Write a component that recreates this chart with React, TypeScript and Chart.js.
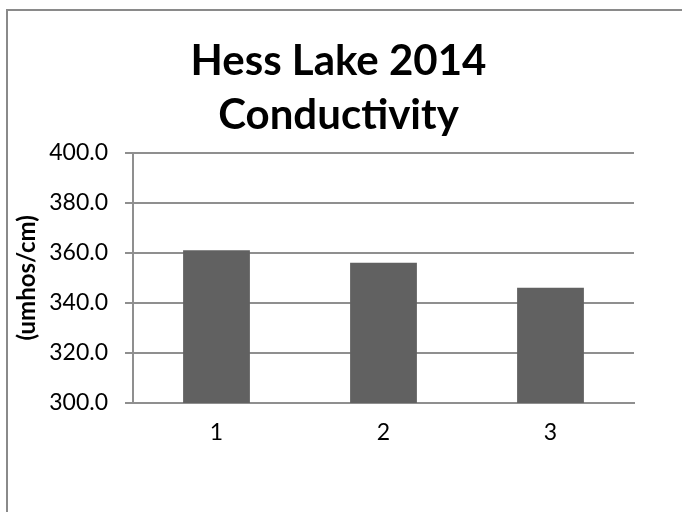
import React, { useEffect, useRef } from "react";
import { Chart, registerables } from "chart.js";

Chart.register(...registerables);

const categories: string[] = ["1", "2", "3"];
const conductivity: number[] = [361, 356, 346];
const titleLines: string[] = ["Hess Lake 2014", "Conductivity"];
const yAxisTitle = "(umhos/cm)";
const yMin = 300;
const yMax = 400;
const yStep = 20;

const FONT = "Lato, 'Open Sans', sans-serif";

const framePlugin = {
  id: "frame",
  beforeDraw(chart: any) {
    const ctx = chart.ctx;
    ctx.save();
    ctx.fillStyle = "#ffffff";
    ctx.fillRect(0, 0, chart.width, chart.height);
    ctx.fillStyle = "#8a8a8a";
    ctx.fillRect(6, 9, 2, chart.height);
    ctx.fillRect(6, 9, chart.width, 2);
    ctx.restore();
  },
};

export default function App() {
  const ref = useRef<HTMLCanvasElement | null>(null);
  useEffect(() => {
    if (!ref.current) return;
    const chart = new Chart(ref.current, {
      type: "bar",
      data: {
        labels: categories,
        datasets: [
          {
            data: conductivity,
            backgroundColor: "#616161",
            borderWidth: 0,
            barPercentage: 0.4,
            categoryPercentage: 1,
          },
        ],
      },
      plugins: [framePlugin],
      options: {
        animation: false,
        responsive: false,
        devicePixelRatio: 1,
        layout: { padding: { left: 0, right: 5, top: 12, bottom: 0 } },
        plugins: {
          legend: { display: false },
          tooltip: { enabled: false },
          title: {
            display: true,
            text: titleLines,
            color: "#000000",
            font: { family: FONT, size: 42, weight: "bold", lineHeight: 1.27 },
            padding: { top: 23, bottom: 11 },
          },
        },
        scales: {
          x: {
            grid: { display: false, drawTicks: true, tickLength: 8 },
            border: { display: true, color: "#8f8f8f", width: 2 },
            ticks: { color: "#000000", font: { family: FONT, size: 23 }, padding: 8 },
            afterFit(scale: any) {
              scale.height = 109;
            },
          },
          y: {
            min: yMin,
            max: yMax,
            ticks: {
              stepSize: yStep,
              color: "#000000",
              font: { family: FONT, size: 23 },
              padding: 17,
              callback: (v: any) => Number(v).toFixed(1),
            },
            grid: { color: "#8f8f8f", lineWidth: 2, drawTicks: true, tickLength: 8 },
            border: { display: true, color: "#8f8f8f", width: 2 },
            title: {
              display: true,
              text: yAxisTitle,
              color: "#000000",
              font: { family: FONT, size: 24, weight: "bold", lineHeight: 1.2 },
              padding: { top: 13, bottom: 0 },
            },
            afterFit(scale: any) {
              scale.width = 133;
            },
          },
          y2: {
            type: "linear",
            position: "right",
            display: true,
            grid: { display: false, drawTicks: false },
            border: { display: false },
            ticks: { display: false },
            afterFit(scale: any) {
              scale.width = 43;
            },
          },
        },
      } as any,
    });
    return () => chart.destroy();
  }, []);
  return (
    <div style={{ position: "absolute", left: 0, top: 0, width: 682, height: 512 }}>
      <canvas ref={ref} width={682} height={512} style={{ display: "block" }} />
    </div>
  );
}
